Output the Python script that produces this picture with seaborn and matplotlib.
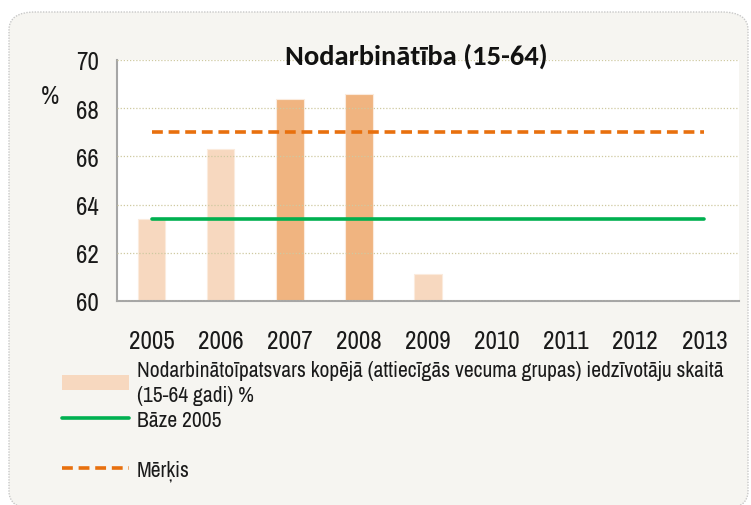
import matplotlib
matplotlib.use("Agg")
import matplotlib.pyplot as plt
import seaborn as sns
from matplotlib.patches import Patch, FancyBboxPatch
from matplotlib.lines import Line2D

# data
years = ["2005", "2006", "2007", "2008", "2009", "2010", "2011", "2012", "2013"]
bar_years = ["2005", "2006", "2007", "2008", "2009"]
employment = [63.4, 66.3, 68.4, 68.6, 61.1]
base_2005 = [63.4] * len(years)
target = [67.0] * len(years)

title = "Nodarbinātība (15-64)"
bar_label = "Nodarbinātoīpatsvars kopējā (attiecīgās vecuma grupas) iedzīvotāju skaitā\n(15-64 gadi) %"
base_label = "Bāze 2005"
target_label = "Mērķis"

light = "#F7D8BF"
dark = "#F0B480"
bar_colors = {"2005": light, "2006": light, "2007": dark, "2008": dark, "2009": light}
dash = (0, (3, 1.6))

sns.set_style("white")
plt.rcParams["font.family"] = ["Archivo Narrow", "DejaVu Sans"]

W, H = 751, 506
fig = plt.figure(figsize=(W / 100, H / 100), dpi=100)
fig.patch.set_facecolor("white")

# rounded grey panel behind everything
panel = FancyBboxPatch((9 / W, 1 - 510 / H), 739 / W, 497 / H,
                       boxstyle="round,pad=0,rounding_size=0.035",
                       transform=fig.transFigure, facecolor="#F6F5F1",
                       edgecolor="#C8C8C8", linewidth=1.0, linestyle=(0, (1, 1)),
                       zorder=-10)
fig.patches.append(panel)

ax = fig.add_axes([117 / W, 1 - 302 / H, 622 / W, 241 / H])
ax.set_facecolor("white")

sns.barplot(x=bar_years, y=employment, hue=bar_years, palette=bar_colors,
            order=years, legend=False, width=0.4, saturation=1, edgecolor="#FBEBDD",
            linewidth=0.8, ax=ax, zorder=1)
sns.lineplot(x=years, y=base_2005, color="#00B050", linewidth=2.6, ax=ax, zorder=3)
sns.lineplot(x=years, y=target, color="#E8700E", linewidth=2.6, ax=ax, zorder=3,
             dashes=False, linestyle=dash)

ax.set_ylim(60, 70)
ax.set_xlim(-0.5, len(years) - 0.5)
ax.set_yticks([60, 62, 64, 66, 68, 70])
ax.yaxis.grid(True, color="#CFC9A0", linestyle=(0, (1, 1.5)), linewidth=0.9, zorder=2)
ax.set_axisbelow(False)
ax.set_xlabel("")
ax.set_ylabel("")

for side in ["top", "right"]:
    ax.spines[side].set_visible(False)
for side in ["left", "bottom"]:
    ax.spines[side].set_color("#A6A6A6")
    ax.spines[side].set_linewidth(1.5)

# ticks between categories on x, outward ticks on y
ax.set_xticks([i - 0.5 for i in range(1, len(years) + 1)], minor=True)
ax.tick_params(axis="x", which="major", length=0, pad=20, labelsize=18, labelcolor="#1a1a1a")
ax.tick_params(axis="x", which="minor", length=7, width=1.2, color="#A6A6A6", direction="out")
ax.tick_params(axis="y", which="major", length=6, width=1.5, color="#A6A6A6",
               direction="out", labelsize=18, labelcolor="#1a1a1a", pad=7)

fig.text(416 / W, 1 - 56 / H, title, ha="center", va="center",
         fontsize=20.5, fontweight="bold", family=["Carlito", "DejaVu Sans"], color="#111111")
fig.text(50 / W, 1 - 97 / H, "%", ha="center", va="center", fontsize=18, color="#1a1a1a")

handles = [
    Patch(facecolor=light, edgecolor="none"),
    Line2D([], [], color="#00B050", linewidth=2.6),
    Line2D([], [], color="none"),
    Line2D([], [], color="#E8700E", linewidth=2.6, linestyle=dash),
]
labels = [bar_label, base_label, "", target_label]
leg = fig.legend(handles, labels, loc="upper left", bbox_to_anchor=(53 / W, 1 - 352 / H),
                 frameon=False, fontsize=15.5, handlelength=3.15, handletextpad=0.35,
                 labelspacing=0.22, borderaxespad=0)
for t in leg.get_texts():
    t.set_color("#1a1a1a")
    t.set_linespacing(1.35)

fig.savefig("out.png", dpi=100, facecolor=fig.get_facecolor())
